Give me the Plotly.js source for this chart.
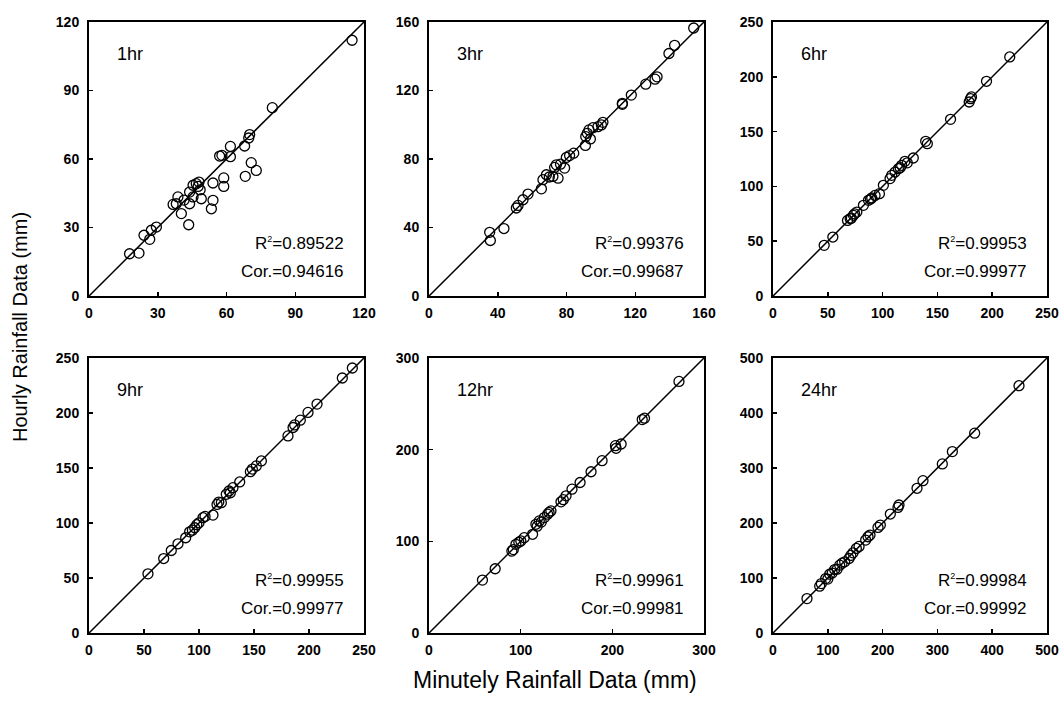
<!DOCTYPE html>
<html>
<head>
<meta charset="utf-8">
<script src="https://cdn.plot.ly/plotly-3.0.1.min.js"></script>
<style>html,body{margin:0;padding:0;background:#fff;}#chart{width:1063px;height:701px;}</style>
</head>
<body>
<div id="chart"></div>
<script>
// ---- data ----
const panelLabels = ["1hr", "3hr", "6hr", "9hr", "12hr", "24hr"];
const r2Values = ["0.89522", "0.99376", "0.99953", "0.99955", "0.99961", "0.99984"];
const corValues = ["0.94616", "0.99687", "0.99977", "0.99977", "0.99981", "0.99992"];
const axisMax = [120, 160, 250, 250, 300, 500];
const tickStep = [30, 40, 50, 50, 100, 100];

const x1hr = [114.8, 80.0, 70.1, 69.7, 67.9, 61.7, 57.0, 58.0, 61.7, 70.8, 73.0, 68.2, 58.8, 58.8, 54.1, 48.0, 46.8, 47.6, 45.4, 54.1, 53.4, 49.0, 43.9, 43.9, 45.4, 38.8, 36.7, 40.3, 43.5, 29.4, 27.2, 26.5, 24.0, 21.8, 17.7, 38.1, 48.5, 41.5];
const y1hr = [112.0, 82.5, 70.7, 69.2, 65.7, 65.5, 61.3, 61.6, 61.0, 58.4, 55.0, 52.4, 51.7, 48.0, 49.5, 49.9, 49.2, 48.0, 48.5, 41.9, 38.2, 42.6, 45.5, 40.4, 43.4, 43.4, 40.1, 36.1, 31.2, 30.2, 28.8, 24.8, 26.6, 18.8, 18.5, 40.4, 46.5, 42.0];

const x3hr = [154.0, 142.9, 139.6, 132.7, 131.5, 126.1, 117.7, 112.5, 112.5, 101.2, 100.3, 98.3, 95.4, 93.1, 92.1, 91.2, 93.9, 91.0, 84.2, 81.8, 79.9, 78.9, 74.1, 73.1, 72.1, 75.1, 68.3, 66.3, 65.4, 57.6, 54.7, 51.8, 50.8, 43.6, 35.3, 35.7, 70.0, 76.5];
const y3hr = [156.5, 146.4, 141.6, 128.0, 126.6, 123.7, 117.3, 112.5, 111.9, 101.4, 99.9, 98.9, 98.3, 97.0, 95.0, 93.1, 91.7, 87.9, 83.4, 82.0, 80.9, 74.7, 76.6, 75.1, 69.8, 68.8, 70.8, 67.9, 62.6, 59.5, 56.2, 52.9, 51.4, 39.4, 37.2, 32.4, 69.5, 77.0];

const x6hr = [216.0, 194.8, 180.2, 179.0, 181.1, 162.0, 139.3, 140.8, 128.0, 120.4, 117.4, 114.4, 111.4, 108.3, 106.8, 100.7, 97.1, 93.1, 90.1, 87.1, 82.5, 76.5, 73.4, 70.4, 68.0, 54.6, 46.7, 122.5, 116.0, 89.0, 74.5, 71.5];
const y6hr = [218.1, 195.9, 180.0, 177.0, 181.6, 161.2, 141.1, 139.0, 125.9, 122.9, 119.2, 116.2, 113.1, 110.1, 107.1, 101.0, 93.4, 91.8, 89.4, 87.3, 82.7, 76.6, 73.6, 70.6, 69.0, 53.8, 46.2, 121.5, 117.0, 88.5, 75.0, 71.0];

const x9hr = [239.4, 230.3, 207.3, 199.1, 192.1, 187.0, 185.5, 180.9, 156.7, 152.1, 146.7, 137.0, 130.9, 127.3, 124.8, 120.3, 116.4, 112.7, 103.6, 100.0, 96.1, 91.5, 87.9, 80.9, 74.8, 67.9, 53.6, 128.5, 118.0, 105.5, 98.0, 94.0, 148.5];
const y9hr = [240.9, 231.8, 208.1, 200.5, 193.5, 189.2, 186.8, 179.2, 156.4, 151.9, 146.7, 137.3, 132.1, 129.1, 126.1, 118.5, 116.9, 107.2, 104.8, 100.2, 95.7, 92.0, 86.6, 81.1, 75.0, 67.7, 53.8, 127.5, 119.0, 106.0, 98.5, 93.5, 149.0];

const x12hr = [272.7, 235.1, 232.6, 209.6, 204.1, 203.4, 188.8, 176.8, 164.8, 156.0, 149.5, 144.0, 133.0, 129.4, 125.8, 120.3, 116.6, 113.0, 103.9, 100.2, 94.8, 90.4, 72.2, 58.3, 131.0, 122.5, 118.0, 98.0, 92.0, 146.5];
const y12hr = [274.5, 234.3, 232.8, 206.2, 201.5, 204.4, 188.0, 175.9, 164.2, 156.9, 149.6, 143.1, 133.2, 129.6, 125.9, 122.3, 118.6, 107.7, 104.0, 100.4, 96.7, 89.4, 70.1, 57.7, 131.5, 121.0, 116.5, 99.0, 91.0, 145.5];

const x24hr = [448.9, 368.0, 327.3, 309.0, 273.7, 262.8, 229.9, 228.1, 214.1, 195.9, 191.6, 173.4, 169.1, 152.1, 146.0, 138.7, 130.8, 121.7, 112.5, 103.4, 96.1, 88.2, 85.2, 62.0, 157.0, 142.0, 126.0, 117.0, 108.0, 100.0, 177.0];
const y24hr = [449.6, 363.3, 329.9, 307.4, 277.0, 263.1, 232.7, 228.4, 216.3, 196.2, 192.0, 175.0, 168.9, 153.7, 145.8, 135.5, 129.4, 123.3, 115.4, 106.9, 99.0, 89.9, 85.1, 62.6, 157.5, 141.0, 127.0, 116.0, 109.0, 98.0, 178.0];

const xData = [x1hr, x3hr, x6hr, x9hr, x12hr, x24hr];
const yData = [y1hr, y3hr, y6hr, y9hr, y12hr, y24hr];

// ---- layout geometry ----
const W = 1063, H = 701;
const colPx = [[89, 364], [429, 704], [773, 1047]];
const rowPx = [[22, 296], [358, 633]];
const FONT = "Arial, 'Liberation Sans', Helvetica, sans-serif";

const traces = [];
const layout = {
  width: W, height: H,
  margin: {l: 0, r: 0, t: 0, b: 0},
  paper_bgcolor: "#fff", plot_bgcolor: "#fff",
  showlegend: false,
  font: {family: FONT, color: "#000"},
  annotations: []
};

for (let i = 0; i < 6; i++) {
  const r = Math.floor(i / 3), c = i % 3;
  const sfx = i === 0 ? "" : String(i + 1);
  const xa = "x" + sfx, ya = "y" + sfx;
  const mx = axisMax[i];
  const ticks = [];
  for (let v = 0; v <= mx + 1e-9; v += tickStep[i]) ticks.push(v);
  const axCommon = {
    range: [0, mx], tickvals: ticks, ticktext: ticks.map(String),
    showgrid: false, zeroline: false,
    showline: true, linecolor: "#000", linewidth: 2, mirror: true,
    ticks: "inside", ticklen: 4, tickwidth: 1.5, tickcolor: "#000",
    tickfont: {family: FONT, size: 14, color: "#000", weight: "bold"},
    fixedrange: true
  };
  layout["xaxis" + sfx] = Object.assign({}, axCommon, {
    domain: [colPx[c][0] / W, colPx[c][1] / W], anchor: ya, ticklabelstandoff: 3
  });
  layout["yaxis" + sfx] = Object.assign({}, axCommon, {
    domain: [1 - rowPx[r][1] / H, 1 - rowPx[r][0] / H], anchor: xa, ticklabelstandoff: 5
  });
  // 1:1 line
  traces.push({
    type: "scatter", mode: "lines", x: [0, mx], y: [0, mx],
    xaxis: xa, yaxis: ya, line: {color: "#000", width: 1.5}, hoverinfo: "skip"
  });
  // points
  traces.push({
    type: "scatter", mode: "markers", x: xData[i], y: yData[i],
    xaxis: xa, yaxis: ya, cliponaxis: false,
    marker: {symbol: "circle-open", size: 10, color: "#000", line: {width: 1.3, color: "#000"}}
  });
  const xd = xa + " domain", yd = ya + " domain";
  layout.annotations.push({
    xref: xd, yref: yd, x: 0.095, y: 0.885, xanchor: "left", yanchor: "middle",
    text: panelLabels[i], showarrow: false, font: {family: FONT, size: 18, color: "#000"}
  });
  layout.annotations.push({
    xref: xd, yref: yd, x: 0.935, y: 0.19, xanchor: "right", yanchor: "middle",
    text: "R<sup><span style='font-size:9px'>2</span></sup>=" + r2Values[i], showarrow: false,
    font: {family: FONT, size: 17, color: "#000"}
  });
  layout.annotations.push({
    xref: xd, yref: yd, x: 0.935, y: 0.09, xanchor: "right", yanchor: "middle",
    text: "Cor.=" + corValues[i], showarrow: false, font: {family: FONT, size: 17, color: "#000"}
  });
}

layout.annotations.push({
  xref: "paper", yref: "paper", x: 555 / W, y: 1 - 680 / H, xanchor: "center", yanchor: "middle",
  text: "Minutely Rainfall Data (mm)", showarrow: false, font: {family: FONT, size: 23, color: "#000"}
});
layout.annotations.push({
  xref: "paper", yref: "paper", x: 20 / W, y: 1 - 327 / H, xanchor: "center", yanchor: "middle",
  text: "Hourly Rainfall Data (mm)", textangle: -90, showarrow: false, font: {family: FONT, size: 20, color: "#000"}
});

Plotly.newPlot("chart", traces, layout, {displayModeBar: false, staticPlot: true});
</script>
</body>
</html>
